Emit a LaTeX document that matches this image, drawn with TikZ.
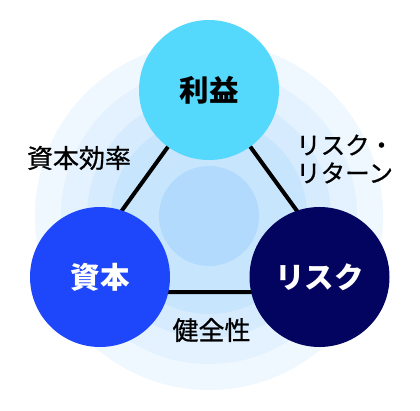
\documentclass[tikz,border=0pt]{standalone}
\usepackage{fontspec}
\newfontfamily\jp{Noto Sans CJK JP}
\newfontfamily\jpl[FakeBold=0.8]{Noto Sans CJK JP}
\definecolor{ringA}{HTML}{EFF7FF}
\definecolor{ringB}{HTML}{E3F2FE}
\definecolor{ringC}{HTML}{D6ECFE}
\definecolor{ringD}{HTML}{C7E5FD}
\definecolor{ringE}{HTML}{B1DAFC}
\definecolor{cyanN}{HTML}{54D8FC}
\definecolor{blueN}{HTML}{1E46FA}
\definecolor{navyN}{HTML}{020460}
\tikzset{
  x=1pt,y=1pt,
  bignode/.style={circle,minimum size=140pt,inner sep=0pt,font=\jp\bfseries\fontsize{29.5}{31}\selectfont},
  lbl/.style={font=\jpl\fontsize{26}{28}\selectfont,text=black,inner sep=0pt},
  kana/.style={font=\jpl\fontsize{24.5}{28}\selectfont,text=black,inner sep=0pt},
  edge/.style={line width=4pt,black}
}
\begin{document}
\begin{tikzpicture}
\useasboundingbox (0,0) rectangle (420,410);
% concentric background
\coordinate (O) at (209,194);
\fill[ringA] (O) circle (174);
\fill[ringB] (O) circle (148);
\fill[ringC] (O) circle (122);
\fill[ringD] (O) circle (98);
\fill[ringE] (O) circle (50);
% triangle vertices
\coordinate (T) at (209,320);
\coordinate (L) at (63,118);
\coordinate (R) at (356,118);
\draw[edge,line join=miter] (T) -- (L) -- (R) -- cycle;
% nodes
\node[bignode,fill=cyanN,text=black] (rieki) at (209,320) {利益};
\node[bignode,fill=blueN,text=white] (shihon) at (100,133) {資本};
\node[bignode,fill=navyN,text=white] (risk) at (319.5,133) {リスク};
% labels
\node[lbl] (kouritsu) at (79,252) {資本効率};
\node[lbl] (kenzen) at (211.5,80) {健全性};
\node[kana,anchor=west,align=left] (rr) at (296,251) {リスク・\\リターン};
\end{tikzpicture}
\end{document}
